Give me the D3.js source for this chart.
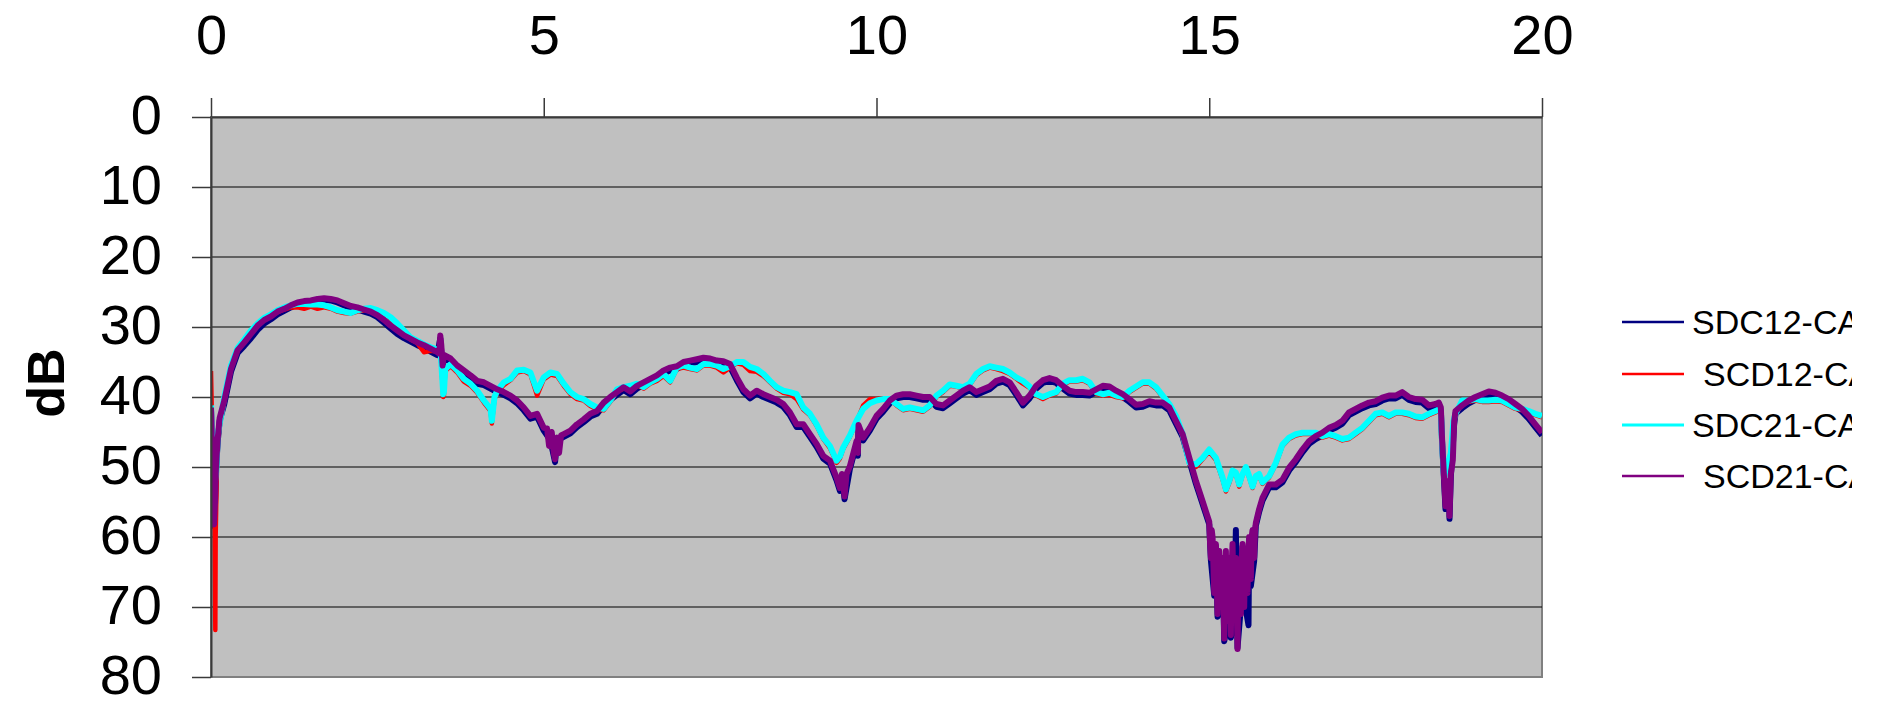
<!DOCTYPE html>
<html>
<head>
<meta charset="utf-8">
<script src="https://cdn.jsdelivr.net/npm/d3@7"></script>
<style>
  body { margin: 0; background: #fff; }
  svg { display: block; font-family: "Liberation Sans", Arial, sans-serif; }
</style>
</head>
<body>
<svg id="chart" width="1877" height="702"></svg>
<script>
// frequency grid, 0.1 steps from 0 to 20 (x axis)
var freq = d3.range(0, 201).map(function(i) { return i / 10; });
var xTicks = [0, 5, 10, 15, 20];
var yTicks = [0, 10, 20, 30, 40, 50, 60, 70, 80];
var names = ["SDC12-CA", "SCD12-CA", "SDC21-CA", "SCD21-CA"];
var colors = ["#000080", "#ff0000", "#00ffff", "#800080"];

// values, one row per GHz
var sdc12 = [
  41.8, 46.5, 41, 36.4, 33.7, 32.7, 31.6, 30.4, 29.5, 28.9,
  28.2, 27.7, 27.2, 26.8, 26.6, 26.4, 26.2, 26.1, 26.2, 26.5,
  26.9, 27.3, 27.5, 27.8, 28.1, 28.6, 29.4, 30.2, 31, 31.6,
  32.1, 32.6, 33, 33.5, 34, 34.4, 34.9, 35.9, 36.6, 37.3,
  38.1, 38.3, 38.8, 39.3, 39.7, 40.2, 40.9, 41.9, 43.1, 42.8,
  44.8, 46.2, 46.2, 45.7, 45.2, 44.3, 43.6, 42.8, 42.4, 41.2,
  40.4, 39.7, 39, 39.6, 38.8, 38.3, 37.8, 37.3, 36.6, 36.2,
  36, 35.4, 35.2, 35, 34.8, 34.9, 35.2, 35.3, 35.7, 37.6,
  39.3, 40.2, 39.5, 40, 40.4, 40.8, 41.4, 42.6, 44.3, 44.3,
  45.7, 47.1, 48.8, 49.5, 51.9, 52.9, 50.3, 46.7, 46.2, 44.8,
  43.1, 42.1, 40.9, 40.2, 40, 40, 40.2, 40.4, 40.4, 41.4,
  41.6, 40.9, 40.2, 39.5, 39, 39.7, 39.3, 38.9, 38.1, 37.8,
  38.3, 39.7, 41.2, 40.2, 38.8, 38, 37.7, 38, 38.8, 39.5,
  39.7, 39.7, 39.8, 39.3, 38.8, 38.9, 39.5, 40, 40.7, 41.5,
  41.4, 41, 41.2, 41.2, 41.9, 43.8, 45.7, 49.1, 52.4, 55.3,
  58.2, 61.4, 63.4, 63.4, 59, 61.4, 60.4, 58.4, 54.8, 52.9,
  52.9, 52.2, 50.5, 49.3, 47.9, 46.7, 46, 45.5, 44.8, 44.4,
  43.8, 42.6, 42.1, 41.6, 41.2, 41, 40.5, 40.2, 40.2, 39.7,
  40.4, 40.7, 40.8, 41.6, 41.4, 46.7, 52.4, 42.4, 41.6, 40.9,
  40.4, 40, 39.6, 39.8, 40.2, 40.7, 41.4, 42.1, 43.1, 44.3,
  45.5
];
var scd12 = [
  36.3, 46, 40.3, 35.8, 33.3, 32, 30.8, 29.8, 29, 28.4,
  27.9, 27.5, 27.2, 27.2, 27.4, 27.1, 27.4, 27.2, 27.4, 27.8,
  28, 28.1, 27.8, 27.6, 27.5, 27.7, 28.2, 28.8, 29.8, 30.8,
  31.8, 32.3, 33.6, 33.4, 33.5, 39.8, 35.6, 36.5, 37.8, 38.4,
  39.4, 40.8, 42, 39.4, 38.3, 37.6, 36.5, 36.3, 36.8, 39.8,
  37.5, 36.8, 37, 38.4, 39.6, 40.3, 40.5, 41.3, 41.8, 41.9,
  40.7, 39.2, 38.8, 38.6, 38.3, 38.8, 38.1, 37.7, 37, 37.9,
  36, 35.8, 36, 36.2, 35.5, 35.5, 35.8, 36.5, 35.8, 35.2,
  35.4, 36.3, 36.4, 37, 37.9, 38.8, 39.4, 39.6, 40.3, 41.8,
  42.6, 44.1, 46, 47.3, 49.4, 47.4, 45.7, 43.6, 41.2, 40.3,
  40.3, 40.2, 40.3, 41.2, 41.9, 41.7, 41.9, 42.1, 41.4, 40,
  39.3, 38.4, 38.5, 38.8, 38.3, 36.9, 36.2, 35.8, 36, 36.3,
  36.7, 37.4, 38.1, 38.7, 39.8, 40.3, 39.8, 39.5, 38.3, 37.8,
  37.8, 37.6, 38.1, 39.5, 39.8, 39.7, 40, 40.2, 39.3, 38.7,
  38.1, 38.1, 38.8, 40, 41.3, 43, 45.6, 49.6, 50, 48.9,
  47.8, 49, 51.8, 52.3, 51, 51.2, 51.5, 51.5, 52.4, 51.5,
  49.6, 47, 46, 45.5, 45.3, 45.3, 45.3, 45.8, 45.5, 45.8,
  46.2, 46, 45.3, 44.6, 43.6, 42.6, 42.4, 42.9, 42.4, 42.4,
  42.6, 43, 43.1, 42.6, 42.2, 47.2, 49.3, 42.6, 40.8, 40.7,
  40.5, 40.7, 40.7, 40.6, 40.7, 41.2, 41.7, 41.9, 42.2, 42.6,
  42.9
];
var sdc21 = [
  41.2, 45.5, 40, 35.5, 33, 31.8, 30.5, 29.5, 28.7, 28.2,
  27.6, 27.2, 26.9, 26.7, 26.7, 26.8, 26.8, 26.9, 27.2, 27.6,
  27.8, 28, 27.6, 27.4, 27.3, 27.6, 28, 28.6, 29.5, 30.5,
  31.5, 32, 32.5, 32.9, 33.2, 39.3, 35.3, 36.2, 37.4, 38.1,
  39.1, 40.5, 41.7, 39.1, 37.9, 37.4, 36.2, 36.1, 36.5, 39.1,
  37.2, 36.5, 36.7, 38.1, 39.3, 40, 40.3, 41, 41.5, 41.7,
  40.5, 38.9, 38.6, 38.4, 38.1, 38.6, 37.9, 37.4, 36.7, 37.7,
  35.8, 35.5, 35.8, 36, 35.3, 35.3, 35.5, 36, 35.6, 35,
  35, 35.7, 36, 36.7, 37.7, 38.6, 39.1, 39.3, 39.6, 41.5,
  42.4, 43.9, 45.8, 47, 49.1, 47.2, 45.5, 43.4, 41.7, 40.9,
  40.5, 40.3, 40.3, 41, 41.7, 41.5, 41.7, 41.9, 41.2, 39.8,
  39.1, 38.2, 38.4, 38.6, 38.1, 36.7, 36, 35.6, 35.8, 36,
  36.5, 37.2, 37.7, 38.5, 39.6, 40, 39.6, 39.3, 38.1, 37.6,
  37.6, 37.4, 37.9, 39.3, 39.6, 39.4, 39.8, 40, 39.1, 38.5,
  37.9, 37.9, 38.6, 39.8, 41, 42.7, 45.3, 49.4, 49.6, 48.7,
  47.5, 48.7, 51.5, 52, 50.8, 51, 51.3, 51.3, 52.2, 51.3,
  49.4, 46.8, 45.8, 45.3, 45.1, 45.1, 45.1, 45.6, 45.3, 45.6,
  46, 45.8, 45.1, 44.4, 43.4, 42.4, 42.2, 42.7, 42.2, 42.2,
  42.4, 42.8, 42.9, 42.4, 42, 47, 49, 42.4, 40.5, 40.5,
  40.3, 40.5, 40.5, 40.4, 40.5, 41, 41.5, 41.7, 42, 42.4,
  42.7
];
var scd21 = [
  41.5, 46, 40.5, 36, 33.3, 32.2, 31, 29.8, 29, 28.5,
  27.8, 27.4, 26.9, 26.5, 26.3, 26.2, 26, 25.9, 26, 26.2,
  26.6, 27, 27.2, 27.5, 27.8, 28.3, 29, 29.8, 30.5, 31.2,
  31.7, 32.2, 32.6, 33.1, 33.6, 34, 34.5, 35.5, 36.2, 36.9,
  37.7, 37.9, 38.4, 38.9, 39.3, 39.8, 40.5, 41.5, 42.7, 42.4,
  44.4, 45.8, 45.8, 45.3, 44.8, 43.9, 43.2, 42.4, 42, 40.8,
  40, 39.3, 38.6, 39.2, 38.4, 37.9, 37.4, 36.9, 36.2, 35.8,
  35.6, 35, 34.8, 34.6, 34.4, 34.5, 34.8, 34.9, 35.3, 37.2,
  38.9, 39.8, 39.1, 39.6, 40, 40.4, 41, 42.2, 43.9, 43.9,
  45.3, 46.7, 48.4, 49.1, 51.5, 52.5, 49.9, 46.3, 45.8, 44.4,
  42.7, 41.7, 40.5, 39.8, 39.6, 39.6, 39.8, 40, 40, 41,
  41.2, 40.5, 39.8, 39.1, 38.6, 39.3, 38.9, 38.5, 37.7, 37.4,
  37.9, 39.3, 40.8, 39.8, 38.4, 37.6, 37.3, 37.6, 38.4, 39.1,
  39.3, 39.3, 39.4, 38.9, 38.4, 38.5, 39.1, 39.6, 40.3, 41.1,
  41, 40.6, 40.8, 40.8, 41.5, 43.4, 45.3, 48.7, 52, 54.9,
  57.8, 61, 63, 63, 63, 61, 60, 58, 54.4, 52.5,
  52.5, 51.8, 50.1, 48.9, 47.5, 46.3, 45.6, 45.1, 44.4, 44,
  43.4, 42.2, 41.7, 41.2, 40.8, 40.6, 40.1, 39.8, 39.8, 39.3,
  40, 40.3, 40.4, 41.2, 41, 46.3, 52, 42, 41.2, 40.5,
  40, 39.6, 39.2, 39.4, 39.8, 40.3, 41, 41.7, 42.7, 43.9,
  45.1
];

// extra readings [freq, dB] at the narrow spikes and dips between grid points
var sdc12Detail = [[0.015, 47.5], [0.025, 58.4], [0.045, 58.4], [0.06, 55.4], [0.075, 50.4], [0.13, 43.4],
  [3.445, 31.6], [3.48, 35.9], [5.17, 49.3], [9.45, 53.4], [9.52, 54.6], [9.72, 48.4], [9.73, 44.4],
  [15.025, 63.4], [15.075, 68.4], [15.125, 71.4], [15.175, 70.4], [15.225, 74.9], [15.275, 72.4],
  [15.325, 74.4], [15.375, 71.4], [15.425, 75.8], [15.475, 70], [15.525, 69], [15.59, 72.6],
  [15.625, 67], [15.675, 63.4], [15.75, 56.4],
  [18.48, 41.9], [18.52, 50.4], [18.55, 56], [18.61, 57.4], [18.63, 51.4], [18.68, 43.9]];
var scd12Detail = [[0.01, 41], [0.02, 47], [0.05, 55], [0.065, 73.3], [0.07, 60], [0.085, 52],
  [3.45, 33.8], [3.49, 40], [3.52, 36.3], [4.22, 43.8], [4.26, 40.3], [9.45, 48.8],
  [15.25, 53.5], [15.35, 50.8], [15.45, 52.8], [15.55, 50.3], [15.65, 53], [15.75, 51.3],
  [18.45, 42], [18.48, 42.2], [18.53, 51.8], [18.56, 50.3], [18.63, 48.3], [18.67, 43.6]];
var sdc21Detail = [[0.02, 48], [0.04, 57], [0.06, 52], [0.08, 50.5],
  [3.45, 33.5], [3.49, 39.6], [3.52, 36], [4.22, 43.4], [4.26, 40], [9.45, 48.5],
  [15.25, 53.2], [15.35, 50.5], [15.45, 52.5], [15.55, 50], [15.65, 52.8], [15.75, 51],
  [18.45, 41.8], [18.48, 42], [18.53, 51.5], [18.56, 50], [18.63, 48], [18.67, 43.4]];
var scd21Detail = [[0.015, 47], [0.025, 58], [0.045, 58.2], [0.06, 55], [0.075, 50], [0.13, 43],
  [3.43, 33.8], [3.445, 31.2], [3.46, 32.5], [3.48, 35.5],
  [5.05, 44.5], [5.08, 47], [5.12, 45], [5.15, 48], [5.17, 48.9], [5.19, 46], [5.23, 48], [5.26, 45.5],
  [9.45, 53], [9.48, 51], [9.52, 54.2], [9.55, 51], [9.72, 48], [9.73, 44],
  [15.0125, 61], [15.025, 63], [15.0375, 59], [15.05, 60], [15.0625, 64], [15.075, 68], [15.0875, 62],
  [15.1125, 66], [15.125, 71], [15.1375, 64], [15.15, 62], [15.1625, 67], [15.175, 70], [15.1875, 63],
  [15.2125, 68], [15.225, 74.5], [15.2375, 65], [15.25, 62], [15.2625, 69], [15.275, 72], [15.2875, 64],
  [15.3125, 69], [15.325, 74], [15.3375, 64], [15.35, 61], [15.3625, 67], [15.375, 71], [15.3875, 65],
  [15.4125, 70], [15.425, 76], [15.4375, 66], [15.45, 64], [15.4625, 68], [15.475, 71], [15.4875, 63],
  [15.5125, 66], [15.525, 70], [15.5375, 63], [15.55, 62], [15.5625, 66], [15.575, 68], [15.5875, 62],
  [15.6125, 64], [15.625, 66], [15.6375, 60], [15.65, 59], [15.6625, 62], [15.675, 63], [15.6875, 59],
  [15.75, 56],
  [18.45, 40.8], [18.48, 41.5], [18.52, 50], [18.55, 55.6], [18.57, 52], [18.59, 53],
  [18.61, 57], [18.63, 51], [18.66, 49], [18.68, 43.5]];

var seriesValues = [sdc12, scd12, sdc21, scd21];
var seriesDetail = [sdc12Detail, scd12Detail, sdc21Detail, scd21Detail];
var lineWidths = [6, 4.5, 6, 6];

function buildSeries(values, detail) {
  var pts = freq.map(function(f, i) { return [f, values[i]]; });
  return pts.concat(detail).sort(function(a, b) { return a[0] - b[0]; });
}

var svg = d3.select("#chart");
var plotLeft = 211, plotRight = 1542, plotTop = 117, plotBottom = 677;

var x = d3.scaleLinear().domain([0, 20]).range([plotLeft, plotRight]);
var y = d3.scaleLinear().domain([0, 80]).range([plotTop, plotBottom]);

var defs = svg.append("defs");
defs.append("clipPath").attr("id", "plotClip")
  .append("rect").attr("x", plotLeft).attr("y", plotTop)
  .attr("width", plotRight - plotLeft).attr("height", plotBottom - plotTop);
defs.append("clipPath").attr("id", "legendClip")
  .append("rect").attr("x", 1560).attr("y", 0).attr("width", 1852 - 1560).attr("height", 702);

// plot area
svg.append("rect")
  .attr("x", plotLeft).attr("y", plotTop)
  .attr("width", plotRight - plotLeft).attr("height", plotBottom - plotTop)
  .attr("fill", "#c0c0c0")
  .attr("stroke", "#808080").attr("stroke-width", 2);

// horizontal gridlines
svg.append("g").selectAll("line")
  .data(yTicks.filter(function(d) { return d > 0 && d < 80; }))
  .enter().append("line")
    .attr("x1", plotLeft).attr("x2", plotRight)
    .attr("y1", function(d) { return y(d); })
    .attr("y2", function(d) { return y(d); })
    .attr("stroke", "#000").attr("stroke-width", 1);

// series
var line = d3.line()
  .x(function(d) { return x(d[0]); })
  .y(function(d) { return y(d[1]); });

svg.append("g").attr("clip-path", "url(#plotClip)")
  .selectAll("path")
  .data(seriesValues.map(function(v, i) { return buildSeries(v, seriesDetail[i]); }))
  .enter().append("path")
    .attr("d", line)
    .attr("fill", "none")
    .attr("stroke", function(d, i) { return colors[i]; })
    .attr("stroke-width", function(d, i) { return lineWidths[i]; })
    .attr("stroke-linejoin", "round");

// axes
var xAxis = d3.axisTop(x).tickValues(xTicks).tickSize(19).tickSizeOuter(0).tickPadding(44);
var yAxis = d3.axisLeft(y).tickValues(yTicks).tickSize(19).tickSizeOuter(0).tickPadding(30);

var gx = svg.append("g").attr("transform", "translate(0," + plotTop + ")").call(xAxis);
var gy = svg.append("g").attr("transform", "translate(" + plotLeft + ",0)").call(yAxis);

[gx, gy].forEach(function(g) {
  g.select(".domain").attr("stroke", "#3a3a3a").attr("stroke-width", 2);
  g.selectAll(".tick line").attr("stroke", "#3a3a3a").attr("stroke-width", 1.5);
  g.selectAll(".tick text")
    .attr("fill", "#000")
    .style("font-family", "'Liberation Sans', Arial, sans-serif")
    .style("font-size", "56px");
});
gy.selectAll(".tick text").attr("dy", "0.3em");

svg.append("text")
  .attr("transform", "translate(46,383) rotate(-90)")
  .attr("text-anchor", "middle")
  .attr("dy", "0.35em")
  .style("font-size", "52px")
  .style("font-weight", "bold")
  .text("dB");

// legend, clipped at the right edge like the original
var legend = svg.append("g").attr("clip-path", "url(#legendClip)");
var legendY = [322, 374, 425, 476];
var legendTextX = [1692, 1703, 1692, 1703];
var legendWidths = [2.5, 2.5, 3, 2.5];

names.forEach(function(name, i) {
  legend.append("line")
    .attr("x1", 1622).attr("x2", 1684)
    .attr("y1", legendY[i]).attr("y2", legendY[i])
    .attr("stroke", colors[i]).attr("stroke-width", legendWidths[i]);
  legend.append("text")
    .attr("x", legendTextX[i]).attr("y", legendY[i])
    .attr("dy", "0.36em")
    .style("font-size", "34px")
    .text(name);
});
</script>
</body>
</html>
